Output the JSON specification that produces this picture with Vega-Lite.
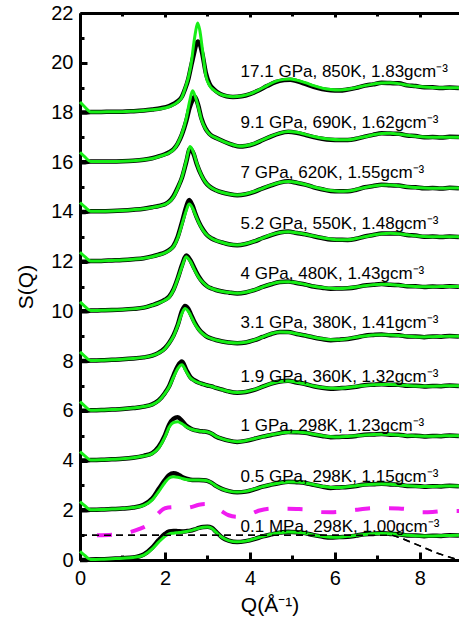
{
"$schema": "https://vega.github.io/schema/vega-lite/v6.json",
"width": 379, "height": 547,
"autosize": {"type": "none"},
"padding": {"left": 80, "top": 13, "right": 0, "bottom": 67},
"config": {"view": {"stroke": null},
 "axis": {"labelFont": "Liberation Sans", "titleFont": "Liberation Sans", "labelFontSize": 20, "titleFontSize": 21, "titleFontWeight": "normal", "labelColor": "black", "titleColor": "black", "tickColor": "#000000", "tickWidth": 3, "domainColor": "#000000", "domainWidth": 3, "grid": false, "labelFlush": false}},
"datasets": {
 "ref": [{"q":0,"s":1},{"q":7.35,"s":1},{"q":7.6,"s":0.85},{"q":8.0,"s":0.57},{"q":8.4,"s":0.28},{"q":8.9,"s":0.0}],
 "mag": [{"q":0.4,"s":1.0},{"q":0.75,"s":1.02},{"q":1.0,"s":1.05},{"q":1.2,"s":1.13},{"q":1.4,"s":1.25},{"q":1.6,"s":1.42},{"q":1.8,"s":1.8},{"q":2.0,"s":2.08},{"q":2.2,"s":2.12},{"q":2.4,"s":2.07},{"q":2.6,"s":2.12},{"q":2.8,"s":2.22},{"q":2.95,"s":2.25},{"q":3.1,"s":2.2},{"q":3.3,"s":2.0},{"q":3.5,"s":1.8},{"q":3.7,"s":1.74},{"q":3.95,"s":1.8},{"q":4.2,"s":1.98},{"q":4.5,"s":2.07},{"q":4.8,"s":2.06},{"q":5.1,"s":2.05},{"q":5.4,"s":2.02},{"q":5.6,"s":1.93},{"q":5.9,"s":1.92},{"q":6.2,"s":1.95},{"q":6.5,"s":2.02},{"q":6.9,"s":2.08},{"q":7.2,"s":2.08},{"q":7.5,"s":2.07},{"q":7.8,"s":2.02},{"q":8.05,"s":1.92},{"q":8.3,"s":1.93},{"q":8.6,"s":1.97},{"q":8.92,"s":1.97}],
 "lab": [{"t":"17.1 GPa, 850K, 1.83gcm⁻³","q":3.78,"s":19.43},{"t":"9.1 GPa, 690K, 1.62gcm⁻³","q":3.78,"s":17.36},{"t":"7 GPa, 620K, 1.55gcm⁻³","q":3.78,"s":15.35},{"t":"5.2 GPa, 550K, 1.48gcm⁻³","q":3.78,"s":13.3},{"t":"4 GPa, 480K, 1.43gcm⁻³","q":3.78,"s":11.29},{"t":"3.1 GPa, 380K, 1.41gcm⁻³","q":3.78,"s":9.32},{"t":"1.9 GPa, 360K, 1.32gcm⁻³","q":3.78,"s":7.17},{"t":"1 GPa, 298K, 1.23gcm⁻³","q":3.78,"s":5.2},{"t":"0.5 GPa, 298K, 1.15gcm⁻³","q":3.78,"s":3.15},{"t":"0.1 MPa, 298K, 1.00gcm⁻³","q":3.78,"s":1.14}],
 "sq": [
{"c":1,"q":0,"f":0.35,"d":0},{"c":1,"q":0.12,"f":0.17,"d":0},{"c":1,"q":0.25,"f":0.02,"d":0.02},{"c":1,"q":0.5,"f":0.03,"d":0.03},{"c":1,"q":0.75,"f":0.05,"d":0.05},{"c":1,"q":1,"f":0.07,"d":0.07},{"c":1,"q":1.25,"f":0.1,"d":0.1},{"c":1,"q":1.5,"f":0.2,"d":0.22},{"c":1,"q":1.7,"f":0.45,"d":0.5},{"c":1,"q":1.85,"f":0.72,"d":0.8},{"c":1,"q":2,"f":0.95,"d":1.05},{"c":1,"q":2.1,"f":1.05,"d":1.15},{"c":1,"q":2.2,"f":1.08,"d":1.17},{"c":1,"q":2.3,"f":1.1,"d":1.16},{"c":1,"q":2.4,"f":1.12,"d":1.15},{"c":1,"q":2.5,"f":1.15,"d":1.16},{"c":1,"q":2.6,"f":1.18,"d":1.18},{"c":1,"q":2.7,"f":1.23,"d":1.23},{"c":1,"q":2.8,"f":1.28,"d":1.29},{"c":1,"q":2.9,"f":1.32,"d":1.33},{"c":1,"q":3,"f":1.33,"d":1.34},{"c":1,"q":3.1,"f":1.28,"d":1.3},{"c":1,"q":3.2,"f":1.12,"d":1.14},{"c":1,"q":3.35,"f":0.9,"d":0.9},{"c":1,"q":3.5,"f":0.78,"d":0.78},{"c":1,"q":3.7,"f":0.73,"d":0.72},{"c":1,"q":3.9,"f":0.76,"d":0.76},{"c":1,"q":4.1,"f":0.85,"d":0.84},{"c":1,"q":4.3,"f":0.95,"d":0.95},{"c":1,"q":4.5,"f":1.04,"d":1.03},{"c":1,"q":4.7,"f":1.1,"d":1.1},{"c":1,"q":4.9,"f":1.13,"d":1.14},{"c":1,"q":5.1,"f":1.12,"d":1.12},{"c":1,"q":5.3,"f":1.07,"d":1.08},{"c":1,"q":5.5,"f":1,"d":1},{"c":1,"q":5.7,"f":0.95,"d":0.94},{"c":1,"q":5.9,"f":0.92,"d":0.9},{"c":1,"q":6.1,"f":0.92,"d":0.92},{"c":1,"q":6.3,"f":0.95,"d":0.93},{"c":1,"q":6.5,"f":0.99,"d":0.98},{"c":1,"q":6.7,"f":1.03,"d":1.04},{"c":1,"q":6.9,"f":1.06,"d":1.05},{"c":1,"q":7.1,"f":1.07,"d":1.08},{"c":1,"q":7.3,"f":1.06,"d":1.05},{"c":1,"q":7.5,"f":1.03,"d":1.04},{"c":1,"q":7.7,"f":1,"d":0.99},{"c":1,"q":7.9,"f":0.98,"d":0.99},{"c":1,"q":8.1,"f":0.97,"d":0.96},{"c":1,"q":8.3,"f":0.97,"d":0.98},{"c":1,"q":8.5,"f":0.98,"d":0.97},{"c":1,"q":8.7,"f":0.99,"d":1},{"c":1,"q":8.92,"f":1,"d":0.99},
{"c":2,"q":0,"f":2.35,"d":2},{"c":2,"q":0.12,"f":2.17,"d":2},{"c":2,"q":0.25,"f":2.02,"d":2.02},{"c":2,"q":0.5,"f":2.03,"d":2.03},{"c":2,"q":0.75,"f":2.05,"d":2.05},{"c":2,"q":1,"f":2.07,"d":2.07},{"c":2,"q":1.25,"f":2.11,"d":2.11},{"c":2,"q":1.5,"f":2.2,"d":2.22},{"c":2,"q":1.7,"f":2.42,"d":2.47},{"c":2,"q":1.85,"f":2.75,"d":2.85},{"c":2,"q":2,"f":3.12,"d":3.22},{"c":2,"q":2.1,"f":3.3,"d":3.42},{"c":2,"q":2.2,"f":3.35,"d":3.49},{"c":2,"q":2.3,"f":3.33,"d":3.45},{"c":2,"q":2.4,"f":3.28,"d":3.34},{"c":2,"q":2.5,"f":3.24,"d":3.27},{"c":2,"q":2.6,"f":3.22,"d":3.23},{"c":2,"q":2.7,"f":3.22,"d":3.22},{"c":2,"q":2.8,"f":3.22,"d":3.22},{"c":2,"q":2.9,"f":3.21,"d":3.21},{"c":2,"q":3,"f":3.18,"d":3.18},{"c":2,"q":3.1,"f":3.1,"d":3.1},{"c":2,"q":3.2,"f":2.98,"d":2.98},{"c":2,"q":3.35,"f":2.85,"d":2.85},{"c":2,"q":3.5,"f":2.77,"d":2.77},{"c":2,"q":3.7,"f":2.73,"d":2.72},{"c":2,"q":3.9,"f":2.76,"d":2.75},{"c":2,"q":4.1,"f":2.85,"d":2.84},{"c":2,"q":4.3,"f":2.95,"d":2.95},{"c":2,"q":4.5,"f":3.04,"d":3.03},{"c":2,"q":4.7,"f":3.1,"d":3.1},{"c":2,"q":4.9,"f":3.14,"d":3.15},{"c":2,"q":5.1,"f":3.14,"d":3.13},{"c":2,"q":5.3,"f":3.1,"d":3.1},{"c":2,"q":5.5,"f":3.03,"d":3.02},{"c":2,"q":5.7,"f":2.96,"d":2.95},{"c":2,"q":5.9,"f":2.92,"d":2.9},{"c":2,"q":6.1,"f":2.92,"d":2.92},{"c":2,"q":6.3,"f":2.95,"d":2.94},{"c":2,"q":6.5,"f":2.99,"d":2.98},{"c":2,"q":6.7,"f":3.03,"d":3.04},{"c":2,"q":6.9,"f":3.05,"d":3.05},{"c":2,"q":7.1,"f":3.06,"d":3.07},{"c":2,"q":7.3,"f":3.05,"d":3.04},{"c":2,"q":7.5,"f":3.02,"d":3.03},{"c":2,"q":7.7,"f":2.99,"d":2.98},{"c":2,"q":7.9,"f":2.97,"d":2.98},{"c":2,"q":8.1,"f":2.96,"d":2.95},{"c":2,"q":8.3,"f":2.96,"d":2.97},{"c":2,"q":8.5,"f":2.97,"d":2.96},{"c":2,"q":8.7,"f":2.98,"d":2.99},{"c":2,"q":8.92,"f":2.98,"d":2.97},
{"c":3,"q":0,"f":4.36,"d":4},{"c":3,"q":0.12,"f":4.18,"d":4},{"c":3,"q":0.25,"f":4.02,"d":4.02},{"c":3,"q":0.5,"f":4.03,"d":4.03},{"c":3,"q":0.75,"f":4.05,"d":4.05},{"c":3,"q":1,"f":4.07,"d":4.07},{"c":3,"q":1.25,"f":4.11,"d":4.11},{"c":3,"q":1.5,"f":4.18,"d":4.19},{"c":3,"q":1.7,"f":4.28,"d":4.3},{"c":3,"q":1.85,"f":4.5,"d":4.55},{"c":3,"q":2,"f":4.95,"d":5.02},{"c":3,"q":2.1,"f":5.35,"d":5.45},{"c":3,"q":2.2,"f":5.53,"d":5.68},{"c":3,"q":2.3,"f":5.56,"d":5.74},{"c":3,"q":2.4,"f":5.48,"d":5.6},{"c":3,"q":2.5,"f":5.36,"d":5.4},{"c":3,"q":2.6,"f":5.27,"d":5.29},{"c":3,"q":2.7,"f":5.22,"d":5.22},{"c":3,"q":2.8,"f":5.19,"d":5.19},{"c":3,"q":2.9,"f":5.17,"d":5.17},{"c":3,"q":3,"f":5.15,"d":5.15},{"c":3,"q":3.1,"f":5.08,"d":5.08},{"c":3,"q":3.2,"f":4.97,"d":4.97},{"c":3,"q":3.35,"f":4.87,"d":4.87},{"c":3,"q":3.5,"f":4.8,"d":4.8},{"c":3,"q":3.7,"f":4.76,"d":4.75},{"c":3,"q":3.9,"f":4.8,"d":4.79},{"c":3,"q":4.1,"f":4.88,"d":4.87},{"c":3,"q":4.3,"f":4.96,"d":4.96},{"c":3,"q":4.5,"f":5.04,"d":5.03},{"c":3,"q":4.7,"f":5.1,"d":5.1},{"c":3,"q":4.9,"f":5.14,"d":5.15},{"c":3,"q":5.1,"f":5.15,"d":5.14},{"c":3,"q":5.3,"f":5.12,"d":5.12},{"c":3,"q":5.5,"f":5.06,"d":5.05},{"c":3,"q":5.7,"f":5,"d":4.99},{"c":3,"q":5.9,"f":4.96,"d":4.94},{"c":3,"q":6.1,"f":4.95,"d":4.95},{"c":3,"q":6.3,"f":4.97,"d":4.96},{"c":3,"q":6.5,"f":5,"d":4.99},{"c":3,"q":6.7,"f":5.03,"d":5.04},{"c":3,"q":6.9,"f":5.05,"d":5.05},{"c":3,"q":7.1,"f":5.06,"d":5.07},{"c":3,"q":7.3,"f":5.05,"d":5.04},{"c":3,"q":7.5,"f":5.03,"d":5.04},{"c":3,"q":7.7,"f":5,"d":4.99},{"c":3,"q":7.9,"f":4.99,"d":5},{"c":3,"q":8.1,"f":4.98,"d":4.97},{"c":3,"q":8.3,"f":4.98,"d":4.99},{"c":3,"q":8.5,"f":4.99,"d":4.98},{"c":3,"q":8.7,"f":5,"d":5.01},{"c":3,"q":8.92,"f":5,"d":4.99},
{"c":4,"q":0,"f":6.37,"d":6},{"c":4,"q":0.12,"f":6.18,"d":6},{"c":4,"q":0.25,"f":6.02,"d":6.02},{"c":4,"q":0.5,"f":6.03,"d":6.03},{"c":4,"q":0.75,"f":6.05,"d":6.05},{"c":4,"q":1,"f":6.07,"d":6.07},{"c":4,"q":1.25,"f":6.11,"d":6.11},{"c":4,"q":1.5,"f":6.17,"d":6.17},{"c":4,"q":1.7,"f":6.25,"d":6.26},{"c":4,"q":1.85,"f":6.4,"d":6.42},{"c":4,"q":2,"f":6.7,"d":6.72},{"c":4,"q":2.1,"f":6.97,"d":7},{"c":4,"q":2.2,"f":7.35,"d":7.42},{"c":4,"q":2.3,"f":7.7,"d":7.8},{"c":4,"q":2.4,"f":7.85,"d":7.98},{"c":4,"q":2.5,"f":7.58,"d":7.65},{"c":4,"q":2.6,"f":7.32,"d":7.35},{"c":4,"q":2.7,"f":7.2,"d":7.22},{"c":4,"q":2.8,"f":7.12,"d":7.13},{"c":4,"q":2.9,"f":7.07,"d":7.07},{"c":4,"q":3,"f":7.02,"d":7.02},{"c":4,"q":3.1,"f":6.98,"d":6.98},{"c":4,"q":3.2,"f":6.92,"d":6.92},{"c":4,"q":3.35,"f":6.85,"d":6.85},{"c":4,"q":3.5,"f":6.78,"d":6.78},{"c":4,"q":3.7,"f":6.74,"d":6.73},{"c":4,"q":3.9,"f":6.77,"d":6.76},{"c":4,"q":4.1,"f":6.85,"d":6.84},{"c":4,"q":4.3,"f":6.97,"d":6.97},{"c":4,"q":4.5,"f":7.1,"d":7.09},{"c":4,"q":4.7,"f":7.18,"d":7.18},{"c":4,"q":4.9,"f":7.2,"d":7.21},{"c":4,"q":5.1,"f":7.15,"d":7.14},{"c":4,"q":5.3,"f":7.08,"d":7.08},{"c":4,"q":5.5,"f":7,"d":6.99},{"c":4,"q":5.7,"f":6.94,"d":6.93},{"c":4,"q":5.9,"f":6.91,"d":6.89},{"c":4,"q":6.1,"f":6.91,"d":6.91},{"c":4,"q":6.3,"f":6.94,"d":6.93},{"c":4,"q":6.5,"f":6.98,"d":6.97},{"c":4,"q":6.7,"f":7.02,"d":7.03},{"c":4,"q":6.9,"f":7.05,"d":7.05},{"c":4,"q":7.1,"f":7.06,"d":7.07},{"c":4,"q":7.3,"f":7.06,"d":7.05},{"c":4,"q":7.5,"f":7.04,"d":7.05},{"c":4,"q":7.7,"f":7.02,"d":7.01},{"c":4,"q":7.9,"f":7,"d":7.01},{"c":4,"q":8.1,"f":6.99,"d":6.98},{"c":4,"q":8.3,"f":6.99,"d":7},{"c":4,"q":8.5,"f":7,"d":6.99},{"c":4,"q":8.7,"f":7.01,"d":7.02},{"c":4,"q":8.92,"f":7.01,"d":7},
{"c":5,"q":0,"f":8.37,"d":8},{"c":5,"q":0.12,"f":8.18,"d":8},{"c":5,"q":0.25,"f":8.02,"d":8.02},{"c":5,"q":0.5,"f":8.03,"d":8.03},{"c":5,"q":0.75,"f":8.05,"d":8.05},{"c":5,"q":1,"f":8.07,"d":8.07},{"c":5,"q":1.25,"f":8.1,"d":8.1},{"c":5,"q":1.5,"f":8.15,"d":8.15},{"c":5,"q":1.7,"f":8.22,"d":8.22},{"c":5,"q":1.85,"f":8.32,"d":8.33},{"c":5,"q":2,"f":8.5,"d":8.52},{"c":5,"q":2.1,"f":8.72,"d":8.74},{"c":5,"q":2.2,"f":9,"d":9.03},{"c":5,"q":2.3,"f":9.42,"d":9.45},{"c":5,"q":2.4,"f":9.92,"d":10.02},{"c":5,"q":2.47,"f":10.12,"d":10.22},{"c":5,"q":2.55,"f":10,"d":10.1},{"c":5,"q":2.6,"f":9.85,"d":9.92},{"c":5,"q":2.7,"f":9.5,"d":9.55},{"c":5,"q":2.8,"f":9.25,"d":9.28},{"c":5,"q":2.9,"f":9.08,"d":9.1},{"c":5,"q":3,"f":8.97,"d":8.97},{"c":5,"q":3.1,"f":8.9,"d":8.9},{"c":5,"q":3.2,"f":8.85,"d":8.85},{"c":5,"q":3.35,"f":8.79,"d":8.79},{"c":5,"q":3.5,"f":8.75,"d":8.75},{"c":5,"q":3.7,"f":8.73,"d":8.72},{"c":5,"q":3.9,"f":8.76,"d":8.75},{"c":5,"q":4.1,"f":8.85,"d":8.84},{"c":5,"q":4.3,"f":8.97,"d":8.97},{"c":5,"q":4.5,"f":9.1,"d":9.09},{"c":5,"q":4.7,"f":9.17,"d":9.17},{"c":5,"q":4.9,"f":9.16,"d":9.17},{"c":5,"q":5.1,"f":9.1,"d":9.09},{"c":5,"q":5.3,"f":9.03,"d":9.03},{"c":5,"q":5.5,"f":8.96,"d":8.95},{"c":5,"q":5.7,"f":8.9,"d":8.89},{"c":5,"q":5.9,"f":8.86,"d":8.84},{"c":5,"q":6.1,"f":8.86,"d":8.86},{"c":5,"q":6.3,"f":8.9,"d":8.89},{"c":5,"q":6.5,"f":8.96,"d":8.95},{"c":5,"q":6.7,"f":9.01,"d":9.02},{"c":5,"q":6.9,"f":9.05,"d":9.05},{"c":5,"q":7.1,"f":9.06,"d":9.07},{"c":5,"q":7.3,"f":9.05,"d":9.04},{"c":5,"q":7.5,"f":9.03,"d":9.04},{"c":5,"q":7.7,"f":9,"d":8.99},{"c":5,"q":7.9,"f":8.98,"d":8.99},{"c":5,"q":8.1,"f":8.97,"d":8.96},{"c":5,"q":8.3,"f":8.98,"d":8.99},{"c":5,"q":8.5,"f":8.99,"d":8.98},{"c":5,"q":8.7,"f":9,"d":9.01},{"c":5,"q":8.92,"f":9,"d":8.99},
{"c":6,"q":0,"f":10.38,"d":10},{"c":6,"q":0.12,"f":10.19,"d":10},{"c":6,"q":0.25,"f":10.03,"d":10.03},{"c":6,"q":0.5,"f":10.04,"d":10.04},{"c":6,"q":0.75,"f":10.05,"d":10.05},{"c":6,"q":1,"f":10.07,"d":10.07},{"c":6,"q":1.25,"f":10.1,"d":10.1},{"c":6,"q":1.5,"f":10.15,"d":10.15},{"c":6,"q":1.7,"f":10.24,"d":10.25},{"c":6,"q":1.85,"f":10.33,"d":10.34},{"c":6,"q":2,"f":10.45,"d":10.47},{"c":6,"q":2.1,"f":10.57,"d":10.6},{"c":6,"q":2.2,"f":10.85,"d":10.88},{"c":6,"q":2.3,"f":11.3,"d":11.33},{"c":6,"q":2.4,"f":11.8,"d":11.86},{"c":6,"q":2.5,"f":12.2,"d":12.25},{"c":6,"q":2.55,"f":12.12,"d":12.18},{"c":6,"q":2.6,"f":12.0,"d":12.05},{"c":6,"q":2.7,"f":11.65,"d":11.7},{"c":6,"q":2.8,"f":11.35,"d":11.38},{"c":6,"q":2.9,"f":11.15,"d":11.15},{"c":6,"q":3,"f":11,"d":11},{"c":6,"q":3.1,"f":10.92,"d":10.92},{"c":6,"q":3.2,"f":10.86,"d":10.86},{"c":6,"q":3.35,"f":10.8,"d":10.8},{"c":6,"q":3.5,"f":10.76,"d":10.76},{"c":6,"q":3.7,"f":10.73,"d":10.72},{"c":6,"q":3.9,"f":10.77,"d":10.76},{"c":6,"q":4.1,"f":10.86,"d":10.85},{"c":6,"q":4.3,"f":10.98,"d":10.98},{"c":6,"q":4.5,"f":11.1,"d":11.09},{"c":6,"q":4.7,"f":11.18,"d":11.18},{"c":6,"q":4.9,"f":11.19,"d":11.2},{"c":6,"q":5.1,"f":11.15,"d":11.14},{"c":6,"q":5.3,"f":11.08,"d":11.08},{"c":6,"q":5.5,"f":11.01,"d":11},{"c":6,"q":5.7,"f":10.96,"d":10.95},{"c":6,"q":5.9,"f":10.93,"d":10.91},{"c":6,"q":6.1,"f":10.92,"d":10.92},{"c":6,"q":6.3,"f":10.94,"d":10.93},{"c":6,"q":6.5,"f":10.98,"d":10.97},{"c":6,"q":6.7,"f":11.03,"d":11.04},{"c":6,"q":6.9,"f":11.07,"d":11.07},{"c":6,"q":7.1,"f":11.09,"d":11.1},{"c":6,"q":7.3,"f":11.08,"d":11.07},{"c":6,"q":7.5,"f":11.05,"d":11.06},{"c":6,"q":7.7,"f":11.02,"d":11.01},{"c":6,"q":7.9,"f":11,"d":11.01},{"c":6,"q":8.1,"f":10.99,"d":10.98},{"c":6,"q":8.3,"f":10.99,"d":11},{"c":6,"q":8.5,"f":11,"d":10.99},{"c":6,"q":8.7,"f":11,"d":11.01},{"c":6,"q":8.92,"f":11,"d":10.99},
{"c":7,"q":0,"f":12.38,"d":12},{"c":7,"q":0.12,"f":12.19,"d":12},{"c":7,"q":0.25,"f":12.03,"d":12.03},{"c":7,"q":0.5,"f":12.03,"d":12.03},{"c":7,"q":0.75,"f":12.05,"d":12.05},{"c":7,"q":1,"f":12.07,"d":12.07},{"c":7,"q":1.25,"f":12.1,"d":12.1},{"c":7,"q":1.5,"f":12.14,"d":12.14},{"c":7,"q":1.7,"f":12.2,"d":12.21},{"c":7,"q":1.85,"f":12.27,"d":12.28},{"c":7,"q":2,"f":12.35,"d":12.37},{"c":7,"q":2.1,"f":12.45,"d":12.47},{"c":7,"q":2.2,"f":12.6,"d":12.63},{"c":7,"q":2.3,"f":12.95,"d":13},{"c":7,"q":2.4,"f":13.5,"d":13.58},{"c":7,"q":2.5,"f":14.05,"d":14.2},{"c":7,"q":2.57,"f":14.32,"d":14.48},{"c":7,"q":2.65,"f":14.15,"d":14.25},{"c":7,"q":2.7,"f":13.95,"d":14.0},{"c":7,"q":2.8,"f":13.55,"d":13.58},{"c":7,"q":2.9,"f":13.25,"d":13.27},{"c":7,"q":3,"f":13.05,"d":13.05},{"c":7,"q":3.1,"f":12.93,"d":12.93},{"c":7,"q":3.2,"f":12.85,"d":12.85},{"c":7,"q":3.35,"f":12.77,"d":12.77},{"c":7,"q":3.5,"f":12.7,"d":12.7},{"c":7,"q":3.7,"f":12.67,"d":12.66},{"c":7,"q":3.9,"f":12.72,"d":12.71},{"c":7,"q":4.1,"f":12.82,"d":12.81},{"c":7,"q":4.3,"f":12.95,"d":12.95},{"c":7,"q":4.5,"f":13.08,"d":13.07},{"c":7,"q":4.7,"f":13.17,"d":13.17},{"c":7,"q":4.9,"f":13.2,"d":13.21},{"c":7,"q":5.1,"f":13.16,"d":13.15},{"c":7,"q":5.3,"f":13.1,"d":13.1},{"c":7,"q":5.5,"f":13.03,"d":13.02},{"c":7,"q":5.7,"f":12.96,"d":12.95},{"c":7,"q":5.9,"f":12.91,"d":12.89},{"c":7,"q":6.1,"f":12.88,"d":12.88},{"c":7,"q":6.3,"f":12.88,"d":12.87},{"c":7,"q":6.5,"f":12.93,"d":12.92},{"c":7,"q":6.7,"f":13,"d":13.01},{"c":7,"q":6.9,"f":13.07,"d":13.07},{"c":7,"q":7.1,"f":13.12,"d":13.13},{"c":7,"q":7.3,"f":13.14,"d":13.13},{"c":7,"q":7.5,"f":13.12,"d":13.13},{"c":7,"q":7.7,"f":13.08,"d":13.07},{"c":7,"q":7.9,"f":13.04,"d":13.05},{"c":7,"q":8.1,"f":13.01,"d":13},{"c":7,"q":8.3,"f":13,"d":13.01},{"c":7,"q":8.5,"f":13,"d":12.99},{"c":7,"q":8.7,"f":13,"d":13.01},{"c":7,"q":8.92,"f":13,"d":12.99},
{"c":8,"q":0,"f":14.38,"d":14},{"c":8,"q":0.12,"f":14.19,"d":14},{"c":8,"q":0.25,"f":14.03,"d":14.03},{"c":8,"q":0.5,"f":14.03,"d":14.03},{"c":8,"q":0.75,"f":14.04,"d":14.04},{"c":8,"q":1,"f":14.06,"d":14.06},{"c":8,"q":1.25,"f":14.09,"d":14.09},{"c":8,"q":1.5,"f":14.13,"d":14.13},{"c":8,"q":1.7,"f":14.18,"d":14.19},{"c":8,"q":1.85,"f":14.23,"d":14.24},{"c":8,"q":2,"f":14.3,"d":14.31},{"c":8,"q":2.1,"f":14.4,"d":14.42},{"c":8,"q":2.2,"f":14.6,"d":14.63},{"c":8,"q":2.3,"f":14.95,"d":14.97},{"c":8,"q":2.4,"f":15.4,"d":15.38},{"c":8,"q":2.5,"f":16.05,"d":16.0},{"c":8,"q":2.59,"f":16.63,"d":16.55},{"c":8,"q":2.67,"f":16.4,"d":16.35},{"c":8,"q":2.75,"f":15.95,"d":15.92},{"c":8,"q":2.85,"f":15.5,"d":15.5},{"c":8,"q":2.95,"f":15.2,"d":15.2},{"c":8,"q":3.05,"f":15.02,"d":15.02},{"c":8,"q":3.2,"f":14.87,"d":14.87},{"c":8,"q":3.35,"f":14.78,"d":14.78},{"c":8,"q":3.5,"f":14.72,"d":14.72},{"c":8,"q":3.7,"f":14.68,"d":14.67},{"c":8,"q":3.9,"f":14.72,"d":14.71},{"c":8,"q":4.1,"f":14.82,"d":14.81},{"c":8,"q":4.3,"f":14.95,"d":14.95},{"c":8,"q":4.5,"f":15.08,"d":15.07},{"c":8,"q":4.7,"f":15.18,"d":15.18},{"c":8,"q":4.9,"f":15.22,"d":15.23},{"c":8,"q":5.1,"f":15.18,"d":15.17},{"c":8,"q":5.3,"f":15.1,"d":15.1},{"c":8,"q":5.5,"f":15,"d":14.99},{"c":8,"q":5.7,"f":14.92,"d":14.91},{"c":8,"q":5.9,"f":14.86,"d":14.84},{"c":8,"q":6.1,"f":14.83,"d":14.83},{"c":8,"q":6.3,"f":14.84,"d":14.83},{"c":8,"q":6.5,"f":14.9,"d":14.89},{"c":8,"q":6.7,"f":14.98,"d":14.99},{"c":8,"q":6.9,"f":15.04,"d":15.04},{"c":8,"q":7.1,"f":15.08,"d":15.09},{"c":8,"q":7.3,"f":15.08,"d":15.07},{"c":8,"q":7.5,"f":15.05,"d":15.06},{"c":8,"q":7.7,"f":15.01,"d":15},{"c":8,"q":7.9,"f":14.98,"d":14.99},{"c":8,"q":8.1,"f":14.96,"d":14.95},{"c":8,"q":8.3,"f":14.95,"d":14.96},{"c":8,"q":8.5,"f":14.95,"d":14.94},{"c":8,"q":8.7,"f":14.96,"d":14.97},{"c":8,"q":8.92,"f":14.96,"d":14.95},
{"c":9,"q":0,"f":16.4,"d":16},{"c":9,"q":0.12,"f":16.2,"d":16},{"c":9,"q":0.25,"f":16.03,"d":16.03},{"c":9,"q":0.5,"f":16.03,"d":16.03},{"c":9,"q":0.75,"f":16.03,"d":16.03},{"c":9,"q":1,"f":16.04,"d":16.04},{"c":9,"q":1.25,"f":16.06,"d":16.06},{"c":9,"q":1.5,"f":16.1,"d":16.1},{"c":9,"q":1.7,"f":16.15,"d":16.16},{"c":9,"q":1.85,"f":16.22,"d":16.23},{"c":9,"q":2,"f":16.3,"d":16.32},{"c":9,"q":2.1,"f":16.38,"d":16.4},{"c":9,"q":2.2,"f":16.5,"d":16.52},{"c":9,"q":2.3,"f":16.75,"d":16.75},{"c":9,"q":2.4,"f":17.15,"d":17.12},{"c":9,"q":2.5,"f":17.75,"d":17.65},{"c":9,"q":2.58,"f":18.45,"d":18.2},{"c":9,"q":2.65,"f":18.87,"d":18.5},{"c":9,"q":2.7,"f":18.7,"d":18.64},{"c":9,"q":2.78,"f":18.25,"d":18.3},{"c":9,"q":2.86,"f":17.7,"d":17.75},{"c":9,"q":2.95,"f":17.35,"d":17.37},{"c":9,"q":3.05,"f":17.12,"d":17.13},{"c":9,"q":3.22,"f":16.96,"d":16.96},{"c":9,"q":3.4,"f":16.82,"d":16.82},{"c":9,"q":3.6,"f":16.7,"d":16.69},{"c":9,"q":3.76,"f":16.64,"d":16.63},{"c":9,"q":3.9,"f":16.66,"d":16.65},{"c":9,"q":4.1,"f":16.75,"d":16.74},{"c":9,"q":4.3,"f":16.9,"d":16.89},{"c":9,"q":4.5,"f":17.05,"d":17.04},{"c":9,"q":4.7,"f":17.17,"d":17.16},{"c":9,"q":4.9,"f":17.23,"d":17.22},{"c":9,"q":5.1,"f":17.2,"d":17.18},{"c":9,"q":5.3,"f":17.12,"d":17.1},{"c":9,"q":5.5,"f":17.03,"d":17.01},{"c":9,"q":5.7,"f":16.96,"d":16.94},{"c":9,"q":5.9,"f":16.92,"d":16.9},{"c":9,"q":6.1,"f":16.9,"d":16.89},{"c":9,"q":6.3,"f":16.9,"d":16.89},{"c":9,"q":6.5,"f":16.95,"d":16.94},{"c":9,"q":6.7,"f":17.02,"d":17.03},{"c":9,"q":6.9,"f":17.1,"d":17.1},{"c":9,"q":7.1,"f":17.15,"d":17.16},{"c":9,"q":7.3,"f":17.16,"d":17.15},{"c":9,"q":7.5,"f":17.13,"d":17.14},{"c":9,"q":7.7,"f":17.08,"d":17.07},{"c":9,"q":7.9,"f":17.04,"d":17.05},{"c":9,"q":8.1,"f":17.01,"d":17},{"c":9,"q":8.3,"f":17,"d":17.01},{"c":9,"q":8.5,"f":17,"d":16.99},{"c":9,"q":8.7,"f":17,"d":17.02},{"c":9,"q":8.92,"f":17,"d":17.01},
{"c":10,"q":0,"f":18.42,"d":18},{"c":10,"q":0.12,"f":18.21,"d":18},{"c":10,"q":0.25,"f":18.02,"d":18.02},{"c":10,"q":0.5,"f":18.02,"d":18.02},{"c":10,"q":0.75,"f":18.03,"d":18.03},{"c":10,"q":1,"f":18.03,"d":18.03},{"c":10,"q":1.25,"f":18.05,"d":18.05},{"c":10,"q":1.5,"f":18.08,"d":18.08},{"c":10,"q":1.7,"f":18.11,"d":18.12},{"c":10,"q":1.9,"f":18.15,"d":18.17},{"c":10,"q":2.1,"f":18.23,"d":18.26},{"c":10,"q":2.3,"f":18.42,"d":18.45},{"c":10,"q":2.4,"f":18.62,"d":18.64},{"c":10,"q":2.47,"f":18.95,"d":18.93},{"c":10,"q":2.55,"f":19.4,"d":19.35},{"c":10,"q":2.62,"f":20,"d":19.9},{"c":10,"q":2.68,"f":20.8,"d":20.35},{"c":10,"q":2.72,"f":21.25,"d":20.65},{"c":10,"q":2.77,"f":21.6,"d":20.85},{"c":10,"q":2.82,"f":21.3,"d":20.75},{"c":10,"q":2.88,"f":20.55,"d":20.35},{"c":10,"q":2.96,"f":19.5,"d":19.6},{"c":10,"q":3.05,"f":19.08,"d":19.15},{"c":10,"q":3.15,"f":18.9,"d":18.93},{"c":10,"q":3.3,"f":18.74,"d":18.74},{"c":10,"q":3.45,"f":18.66,"d":18.65},{"c":10,"q":3.6,"f":18.63,"d":18.62},{"c":10,"q":3.8,"f":18.66,"d":18.65},{"c":10,"q":4,"f":18.75,"d":18.74},{"c":10,"q":4.2,"f":18.9,"d":18.88},{"c":10,"q":4.4,"f":19.08,"d":19.06},{"c":10,"q":4.6,"f":19.25,"d":19.22},{"c":10,"q":4.8,"f":19.33,"d":19.3},{"c":10,"q":4.95,"f":19.35,"d":19.32},{"c":10,"q":5.1,"f":19.3,"d":19.26},{"c":10,"q":5.3,"f":19.2,"d":19.15},{"c":10,"q":5.5,"f":19.08,"d":19.03},{"c":10,"q":5.7,"f":18.98,"d":18.94},{"c":10,"q":5.9,"f":18.92,"d":18.89},{"c":10,"q":6.1,"f":18.9,"d":18.88},{"c":10,"q":6.3,"f":18.93,"d":18.92},{"c":10,"q":6.5,"f":19,"d":18.99},{"c":10,"q":6.7,"f":19.08,"d":19.08},{"c":10,"q":6.9,"f":19.14,"d":19.13},{"c":10,"q":7.1,"f":19.18,"d":19.19},{"c":10,"q":7.3,"f":19.19,"d":19.18},{"c":10,"q":7.5,"f":19.16,"d":19.17},{"c":10,"q":7.7,"f":19.1,"d":19.09},{"c":10,"q":7.9,"f":19.05,"d":19.06},{"c":10,"q":8.1,"f":19.02,"d":19.01},{"c":10,"q":8.3,"f":19,"d":19.01},{"c":10,"q":8.5,"f":18.99,"d":18.98},{"c":10,"q":8.7,"f":18.99,"d":19},{"c":10,"q":8.92,"f":18.99,"d":18.98}
 ]
},
"layer": [
 {"data": {"name": "ref"},
  "mark": {"type": "line", "color": "black", "strokeWidth": 1.5, "strokeDash": [7, 5]},
  "encoding": {
   "x": {"field": "q", "type": "quantitative", "scale": {"domain": [0, 8.92], "nice": false, "zero": false},
    "axis": {"orient": "bottom", "values": [0, 2, 4, 6, 8], "ticks": false, "domain": true, "labelPadding": 8, "title": "Q(Å⁻¹)", "titlePadding": 6}},
   "y": {"field": "s", "type": "quantitative", "scale": {"domain": [0, 22], "nice": false, "zero": false},
    "axis": {"orient": "left", "values": [0, 2, 4, 6, 8, 10, 12, 14, 16, 18, 20, 22], "ticks": false, "domain": true, "labelPadding": 7, "title": "S(Q)", "titlePadding": 14}}
  }},
 {"data": {"name": "mag"},
  "mark": {"type": "line", "color": "#f01cf0", "strokeWidth": 4, "strokeDash": [15, 19], "interpolate": "monotone"},
  "encoding": {
   "x": {"field": "q", "type": "quantitative", "scale": {"domain": [0, 8.92], "nice": false, "zero": false},
    "axis": {"orient": "bottom", "values": [0, 2, 4, 6, 8], "offset": -8, "tickSize": 8, "labels": false, "domain": false, "title": null}},
   "y": {"field": "s", "type": "quantitative", "scale": {"domain": [0, 22], "nice": false, "zero": false},
    "axis": {"orient": "left", "values": [0, 2, 4, 6, 8, 10, 12, 14, 16, 18, 20, 22], "offset": -7, "tickSize": 7, "labels": false, "domain": false, "title": null}}
  }},
 {"data": {"name": "sq"},
  "mark": {"type": "line", "color": "black", "strokeWidth": 4.5, "interpolate": "monotone"},
  "encoding": {
   "x": {"field": "q", "type": "quantitative", "scale": {"domain": [0, 8.92], "nice": false, "zero": false},
    "axis": {"orient": "bottom", "values": [1, 3, 5, 7], "offset": -5, "tickSize": 5, "labels": false, "domain": false, "title": null}},
   "y": {"field": "d", "type": "quantitative",
    "axis": {"orient": "left", "values": [1, 3, 5, 7, 9, 11, 13, 15, 17, 19, 21], "offset": -4, "tickSize": 4, "labels": false, "domain": false, "title": null}},
   "detail": {"field": "c", "type": "nominal"}
  }},
 {"data": {"name": "sq"},
  "mark": {"type": "line", "color": "#16ee16", "strokeWidth": 3, "interpolate": "monotone"},
  "encoding": {
   "x": {"field": "q", "type": "quantitative", "scale": {"domain": [0, 8.92], "nice": false, "zero": false},
    "axis": {"orient": "top", "values": [0, 2, 4, 6, 8], "offset": -4, "tickSize": 4, "labels": false, "domain": false, "title": null}},
   "y": {"field": "f", "type": "quantitative", "axis": null},
   "detail": {"field": "c", "type": "nominal"}
  }},
 {"data": {"name": "lab"},
  "mark": {"type": "text", "font": "Liberation Sans", "fontSize": 17, "align": "left", "baseline": "alphabetic", "color": "black"},
  "encoding": {
   "x": {"field": "q", "type": "quantitative",
    "axis": {"orient": "top", "values": [1, 3, 5, 7], "offset": -3, "tickSize": 3, "labels": false, "domain": false, "title": null}},
   "y": {"field": "s", "type": "quantitative", "axis": null},
   "text": {"field": "t"}
  }},
 {"data": {"name": "ref"},
  "mark": {"type": "line", "color": "black", "strokeWidth": 1.5, "strokeDash": [7, 5]},
  "encoding": {
   "x": {"field": "q", "type": "quantitative",
    "axis": {"orient": "top", "ticks": false, "labels": false, "domain": true, "title": null}},
   "y": {"field": "s", "type": "quantitative", "axis": null}
  }}
],
"resolve": {"axis": {"x": "independent", "y": "independent"}}
}
